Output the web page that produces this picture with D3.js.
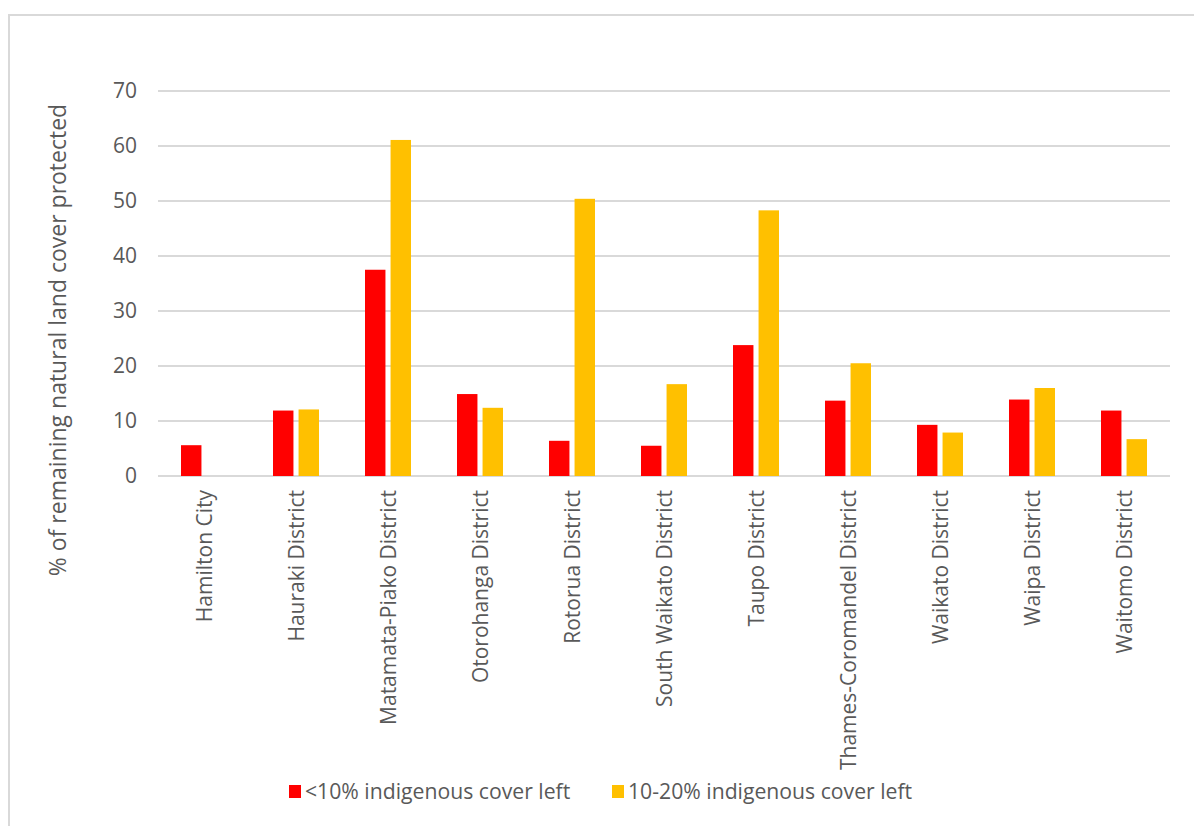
<!DOCTYPE html>
<html>
<head>
<meta charset="utf-8">
<script src="https://cdn.jsdelivr.net/npm/d3@7"></script>
<style>
  html, body { margin: 0; padding: 0; background: #fff; }
  svg { display: block; }
  text { font-family: "Open Sans", sans-serif; fill: #595959; }
</style>
</head>
<body>
<svg id="chart" width="1194" height="826"></svg>
<script>
// Districts in the Waikato region
const districts = [
  "Hamilton City", "Hauraki District", "Matamata-Piako District", "Otorohanga District",
  "Rotorua District", "South Waikato District", "Taupo District", "Thames-Coromandel District",
  "Waikato District", "Waipa District", "Waitomo District"
];
// % of remaining natural land cover protected
const under10 = [5.6, 11.9, 37.5, 14.9, 6.4, 5.5, 23.8, 13.7, 9.3, 13.9, 11.9];
const from10to20 = [0, 12.1, 61.1, 12.4, 50.4, 16.7, 48.3, 20.5, 7.9, 16.0, 6.7];
const seriesNames = ["<10% indigenous cover left", "10-20% indigenous cover left"];
const seriesColors = ["#FF0000", "#FFC000"];
const yTicks = [0, 10, 20, 30, 40, 50, 60, 70];
const yTitle = "% of remaining natural land cover protected";

const svg = d3.select("#chart");

// outer chart frame (runs past the right and bottom edges)
svg.append("rect")
  .attr("x", 9).attr("y", 15)
  .attr("width", 1200).attr("height", 830)
  .attr("fill", "none").attr("stroke", "#d9d9d9").attr("stroke-width", 2);

const plot = { left: 158, right: 1170, top: 91, bottom: 476 };

const x = d3.scaleBand().domain(districts).range([plot.left, plot.right]).padding(0);
const xs = d3.scaleBand().domain(seriesNames).range([-23, 23]).paddingInner(0.2).paddingOuter(0);
const y = d3.scaleLinear().domain([0, 70]).range([plot.bottom, plot.top]);

// horizontal gridlines
svg.append("g")
  .selectAll("line").data(yTicks).join("line")
  .attr("x1", plot.left).attr("x2", plot.right)
  .attr("y1", d => y(d)).attr("y2", d => y(d))
  .attr("stroke", "#d9d9d9").attr("stroke-width", 2);

// y tick labels
svg.append("g")
  .selectAll("text").data(yTicks).join("text")
  .attr("x", 137).attr("y", d => y(d))
  .attr("dy", "0.35em")
  .attr("text-anchor", "end")
  .style("font-size", "21px")
  .text(d => d);

// y axis title
svg.append("text")
  .attr("transform", `translate(66,340) rotate(-90)`)
  .attr("text-anchor", "middle")
  .style("font-size", "23px")
  .text(yTitle);

// bars
const rows = districts.map((d, i) => ({ district: d, values: [under10[i], from10to20[i]] }));
const groups = svg.append("g")
  .selectAll("g").data(rows).join("g")
  .attr("transform", d => `translate(${x(d.district) + x.bandwidth() / 2},0)`);

groups.selectAll("rect")
  .data(d => d.values.map((v, k) => ({ v, k })))
  .join("rect")
  .attr("x", d => xs(seriesNames[d.k]))
  .attr("width", xs.bandwidth())
  .attr("y", d => y(d.v))
  .attr("height", d => y(0) - y(d.v))
  .attr("fill", d => seriesColors[d.k]);

// category labels, rotated
svg.append("g")
  .selectAll("text").data(districts).join("text")
  .attr("transform", d => `translate(${x(d) + x.bandwidth() / 2 + 1},490) rotate(-90)`)
  .attr("dy", "0.35em")
  .attr("text-anchor", "end")
  .style("font-size", "21px")
  .text(d => d);

// legend
const legendX = [289, 612];
const legend = svg.append("g")
  .selectAll("g").data(seriesNames).join("g")
  .attr("transform", (d, i) => `translate(${legendX[i]},792)`);
legend.append("rect")
  .attr("x", 0).attr("y", -7).attr("width", 12).attr("height", 13)
  .attr("fill", (d, i) => seriesColors[i]);
legend.append("text")
  .attr("x", 16).attr("y", 0).attr("dy", "0.35em")
  .style("font-size", "21.2px")
  .text(d => d);
</script>
</body>
</html>
